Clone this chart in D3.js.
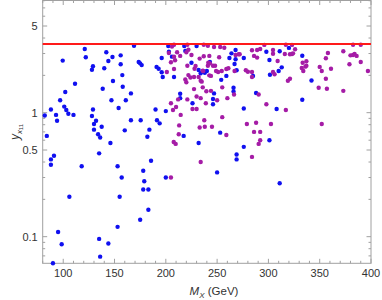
<!DOCTYPE html>
<html>
<head>
<meta charset="utf-8">
<script src="https://cdn.jsdelivr.net/npm/d3@7"></script>
<style>
  body { margin: 0; background: #fff; }
  svg { display: block; font-family: "Liberation Sans", Arial, sans-serif; }
</style>
</head>
<body>
<div id="chart"></div>
<script>
// [M_X in GeV, y_x11]
var bluePoints = [
  [84,0.65],[82,0.95],[88,1.06],[93,0.96],[94,0.86],[97,1.26],[99.5,2.63],[101,1.12],
  [102,1.47],[103,1.05],[105,0.98],[110,0.96],[111.5,1.71],[121,3.26],[122,2.80],
  [128,0.94],[128,2.22],[129,2.37],[129,1.06],[130,0.81],[130,0.73],[132,0.86],
  [134,0.67],[136,0.63],[137.5,0.77],[138.5,1.56],[140,2.28],[142,3.07],[144,2.61],
  [146,0.57],[147,1.26],[148,2.81],[148.5,1.80],[154,1.09],[156,2.90],[156,2.46],
  [157.6,2.01],[158,1.62],[160,0.72],[161,1.26],[166,1.43],[166,0.87],[169,3.47],
  [173.6,2.56],[175,2.50],[176.5,2.42],[175.5,0.87],[182,0.64],[184,0.73],[190,1.06],
  [191,2.34],[191.4,0.87],[193,2.26],[194,0.82],[196,2.12],[197,1.94],[196,2.76],
  [200,1.03],[202.4,3.45],[203,3.10],[206,2.83],[208,1.94],[214,1.42],[214,1.31],
  [217.4,0.65],[218,3.45],[219,3.15],[225,2.53],[226,1.19],[232,0.57],[232,2.21],
  [234,2.08],[238,2.10],[230,3.45],[240,2.17],[243,2.56],[247,1.43],[246,1.29],
  [246,1.17],[254,1.84],[253,0.69],[259,1.98],[262,2.76],[264,3.01],[266,1.59],
  [266,1.48],[267,2.47],[268,3.20],[268,2.70],[269,2.20],[276,2.76],[276,1.08],
  [276,0.53],[285,1.98],[288,1.44],[298,3.10],[301,2.66],[301.5,2.02],[301,0.60],
  [308,1.07],[310,2.17],[311,3.13],[313,2.32],[320,3.33],[333,2.88],[333,1.27],
  [342,1.82],[269,0.46],[269,0.42],[250,0.33],[311,0.27],[91,0.45],[88,0.42],
  [88,0.38],[118,0.37],[106,0.21],[95,0.109],[98.5,0.087],[90,0.061],[135,0.096],
  [144,0.088],[136,0.069],[135,0.47],[153,0.37],[157,0.30],[155,0.21],[153,0.120],
  [178,0.34],[179,0.28],[178,0.24],[183,0.24],[183,0.165],[175,0.137],[185.6,0.41],
  [200,0.30]
];

var purplePoints = [
  [201,2.13],[203,3.03],[205,2.55],[205,1.19],[206,3.41],[208,3.53],[208,2.83],
  [209,2.65],[208,2.25],[211,3.07],[207,1.05],[210,1.11],[212,1.28],[214,2.87],
  [214.5,0.96],[213,0.79],[212.6,0.67],[207.7,0.58],[209.6,0.56],[219,1.85],
  [220,3.07],[221,3.53],[222,3.22],[220,1.76],[221,1.28],[221,2.39],[222,2.01],
  [224,1.92],[225,2.92],[226,1.07],[227.5,1.94],[227.5,1.55],[228,2.26],[229,2.38],
  [230,1.35],[232,1.94],[233,0.76],[233,2.73],[234,1.31],[235,1.78],[236,1.60],
  [236.5,2.17],[237,3.53],[237.5,0.87],[238,0.77],[239.5,1.49],[241,2.39],[241.4,2.53],
  [242.4,2.00],[242.4,2.87],[230,1.07],[237,2.85],[236,2.18],[234,1.81],[239,1.19],
  [245,0.77],[243,2.50],[246,2.39],[248,2.39],[249,2.17],[251,2.13],[252,2.80],
  [253,3.39],[257,3.34],[254.5,2.17],[255,1.60],[255,0.92],[250,1.26],[244,1.50],
  [244,1.98],[247,3.39],[241,3.47],[259,2.25],[261,2.28],[260,1.31],[259,0.66],
  [267,2.17],[268,2.92],[271,2.96],[272,2.96],[266.5,1.40],[278,2.20],[280,2.14],
  [279,0.81],[284,3.19],[284,1.94],[284,2.13],[286,0.70],[286,2.87],[289,2.78],
  [288,0.83],[289,3.20],[290.5,1.40],[292,3.26],[292,0.70],[292,0.60],[290.5,0.56],
  [296,3.52],[298,1.17],[302.5,0.81],[304.5,3.20],[304.5,2.99],[304.5,2.13],[306,2.04],
  [309,2.61],[316,2.97],[317,3.53],[319,1.81],[321,1.88],[317,1.05],[321,2.96],
  [323,2.97],[323,3.52],[324,3.01],[326,3.25],[332.5,2.29],[333.4,2.53],[336,2.35],
  [337,2.39],[337,2.60],[334,2.17],[350,2.34],[352,2.17],[356,2.75],[358,3.03],
  [356,1.88],[357,1.56],[349,1.59],[352,0.81],[361,2.26],[373,1.50],[373,3.13],
  [379,2.46],[380,2.90],[382.5,2.92],[384,2.97],[382.5,3.53],[386,2.87],[390,2.56],
  [397,2.17],[390,3.53],[205,0.30],[234,0.40],[284,0.44]
];

var perturbativeLimit = 3.58;   // red line
var xTicks = [100, 150, 200, 250, 300, 350, 400];
var yTicks = [0.1, 0.5, 1, 5];

var width = 382, height = 300;
var margin = {left: 42.7, right: 11, top: 0.5, bottom: 36.7};

var svg = d3.select("#chart").append("svg")
    .attr("width", width)
    .attr("height", height);

var x = d3.scaleLinear()
    .domain([80, 400])
    .range([margin.left, width - margin.right]);

var y = d3.scaleLog()
    .domain([0.061, 8.03])
    .range([height - margin.bottom, margin.top]);

var x0 = x.range()[0], x1 = x.range()[1];
var y0 = y.range()[0], y1 = y.range()[1];

// minor ticks
var xMinor = d3.range(80, 401, 10).filter(function(d) { return xTicks.indexOf(d) == -1 });
var yMinor = [0.07,0.08,0.09,0.2,0.3,0.4,0.6,0.7,0.8,0.9,2,3,4,6,7,8];

var frame = svg.append("g")
    .attr("stroke", "#a0a0a0")
    .attr("stroke-width", 1)
    .attr("fill", "none");

frame.append("rect")
    .attr("x", x0)
    .attr("y", y1)
    .attr("width", x1 - x0)
    .attr("height", y0 - y1);

function tickLines(vals, len) {
  vals.forEach(function(v) {
    var px = x(v);
    frame.append("line").attr("x1", px).attr("x2", px).attr("y1", y0).attr("y2", y0 - len);
    frame.append("line").attr("x1", px).attr("x2", px).attr("y1", y1).attr("y2", y1 + len);
  });
}
function yTickLines(vals, len) {
  vals.forEach(function(v) {
    var py = y(v);
    frame.append("line").attr("x1", x0).attr("x2", x0 + len).attr("y1", py).attr("y2", py);
    frame.append("line").attr("x1", x1).attr("x2", x1 - len).attr("y1", py).attr("y2", py);
  });
}
tickLines(xTicks, 4.5);
tickLines(xMinor, 2.5);
yTickLines(yTicks, 4.5);
yTickLines(yMinor, 2.5);

// tick labels
svg.append("g").selectAll("text")
    .data(xTicks)
    .enter()
    .append("text")
    .attr("x", function(d) { return x(d) })
    .attr("y", y0 + 14)
    .attr("text-anchor", "middle")
    .style("font-size", "11px")
    .style("fill", "#333")
    .text(function(d) { return d });

svg.append("g").selectAll("text")
    .data(yTicks)
    .enter()
    .append("text")
    .attr("x", x0 - 5)
    .attr("y", function(d) { return y(d) + 4 })
    .attr("text-anchor", "end")
    .style("font-size", "11px")
    .style("fill", "#333")
    .text(function(d) { return d });

// points
svg.append("g").selectAll("circle")
    .data(bluePoints)
    .enter()
    .append("circle")
    .attr("cx", function(d) { return x(d[0]) })
    .attr("cy", function(d) { return y(d[1]) })
    .attr("r", 2.2)
    .attr("fill", "#1010f0");

svg.append("g").selectAll("circle")
    .data(purplePoints)
    .enter()
    .append("circle")
    .attr("cx", function(d) { return x(d[0]) })
    .attr("cy", function(d) { return y(d[1]) })
    .attr("r", 2.2)
    .attr("fill", "#a51ca6");

svg.append("line")
    .attr("x1", x0)
    .attr("x2", x1)
    .attr("y1", y(perturbativeLimit))
    .attr("y2", y(perturbativeLimit))
    .attr("stroke", "#ff1a1a")
    .attr("stroke-width", 2);

// axis titles
var xt = svg.append("text")
    .attr("x", 214)
    .attr("y", 295)
    .attr("text-anchor", "middle")
    .style("font-size", "11.5px")
    .style("fill", "#333");
xt.append("tspan").style("font-style", "italic").text("M");
xt.append("tspan").style("font-style", "italic").style("font-size", "8px").attr("dy", 2.5).text("X");
xt.append("tspan").attr("dy", -2.5).text(" (GeV)");

var yt = svg.append("text")
    .attr("transform", "translate(19,132) rotate(-90)")
    .attr("text-anchor", "middle")
    .style("font-size", "12px")
    .style("fill", "#333");
yt.append("tspan").style("font-style", "italic").text("y");
yt.append("tspan").style("font-style", "italic").style("font-size", "8px").attr("dy", 2.5).text("x");
yt.append("tspan").style("font-size", "6px").attr("dy", 1.5).text("11");
</script>
</body>
</html>
